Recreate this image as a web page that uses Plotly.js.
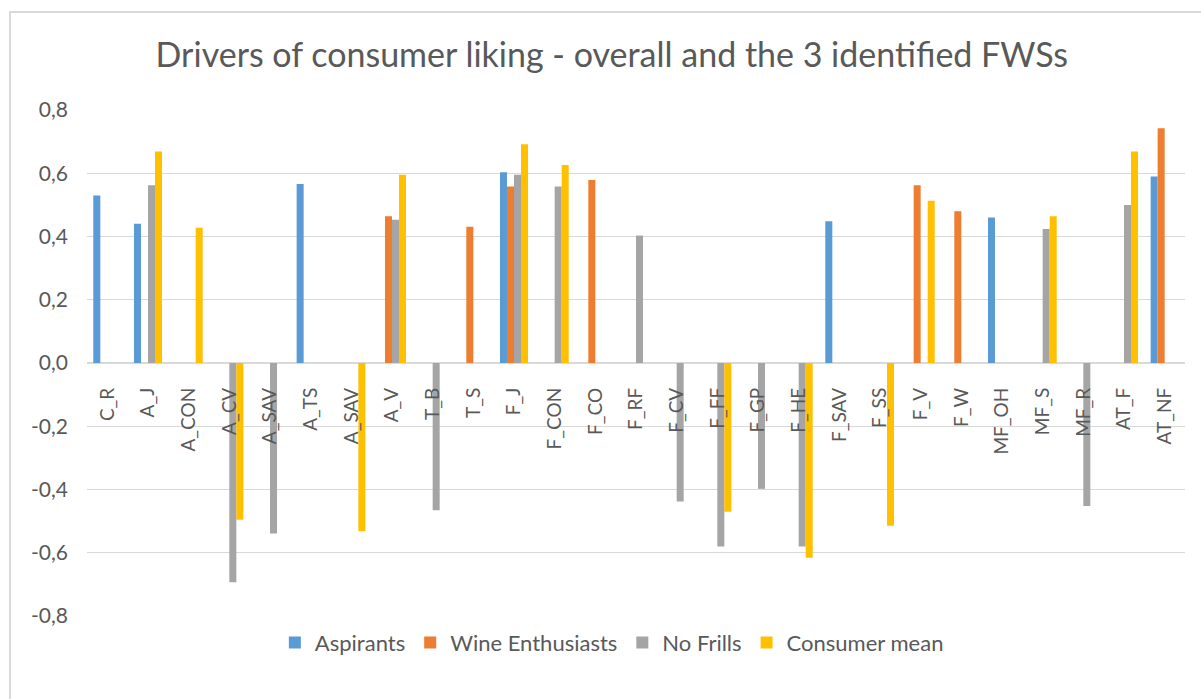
<!DOCTYPE html>
<html>
<head>
<meta charset="utf-8">
<script src="https://cdn.plot.ly/plotly-3.0.1.min.js"></script>
<style>
  html, body { margin: 0; padding: 0; background: #ffffff; }
  #chart { position: absolute; left: 0; top: 0; width: 1201px; height: 699px; }
  #frame { position: absolute; left: 9px; top: 11px; width: 1300px; height: 800px;
           border-left: 2px solid #d9d9d9; border-top: 2px solid #d9d9d9; pointer-events: none; }
</style>
</head>
<body>
<div id="chart"></div>
<div id="frame"></div>
<script>
// Attribute labels (A_SAV occurs twice, so bars are placed by position index)
const labels = ["C_R", "A_J", "A_CON", "A_CV", "A_SAV", "A_TS", "A_SAV", "A_V", "T_B", "T_S",
                "F_J", "F_CON", "F_CO", "F_RF", "F_CV", "F_FF", "F_GP", "F_HE", "F_SAV", "F_SS",
                "F_V", "F_W", "MF_OH", "MF_S", "MF_R", "AT_F", "AT_NF"];

// Correlation with liking per segment (null = not a significant driver)
const aspirants = [0.530, 0.440, null, null, null, 0.566, null, null, null, null,
                   0.603, null, null, null, null, null, null, null, 0.448, null,
                   null, null, 0.460, null, null, null, 0.590];
const wineEnthusiasts = [null, null, null, null, null, null, null, 0.464, null, 0.431,
                         0.558, null, 0.579, null, null, null, null, null, null, null,
                         0.562, 0.480, null, null, null, null, 0.742];
const noFrills = [null, 0.562, null, -0.693, -0.539, null, null, 0.453, -0.466, null,
                  0.595, 0.558, null, 0.403, -0.438, -0.580, -0.398, -0.580, null, null,
                  null, null, null, 0.424, -0.452, 0.500, null];
const consumerMean = [null, 0.669, 0.428, -0.496, null, null, -0.532, 0.595, null, null,
                      0.692, 0.626, null, null, null, -0.470, null, -0.616, null, -0.515,
                      0.513, null, null, 0.464, null, 0.669, null];

// Value axis ticks, written with a decimal comma
const yTickValues = [-0.8, -0.6, -0.4, -0.2, 0, 0.2, 0.4, 0.6, 0.8];
const yTickLabels = ["-0,8", "-0,6", "-0,4", "-0,2", "0,0", "0,2", "0,4", "0,6", "0,8"];

const seriesNames = ["Aspirants", "Wine Enthusiasts", "No Frills", "Consumer mean"];
const seriesColors = ["#5b9bd5", "#ed7d31", "#a5a5a5", "#ffc000"];
const seriesValues = [aspirants, wineEnthusiasts, noFrills, consumerMean];

const positions = labels.map((_, i) => i);
const FONT = "Lato, 'Open Sans', sans-serif";
const TEXT = "#595959";

const traces = seriesValues.map((vals, k) => ({
  type: "bar",
  name: seriesNames[k],
  x: positions,
  y: vals,
  marker: { color: seriesColors[k], line: { width: 0 } },
  hoverinfo: "x+y"
}));

const layout = {
  width: 1201,
  height: 699,
  margin: { l: 87, r: 16, t: 110, b: 83 },
  paper_bgcolor: "rgba(0,0,0,0)",
  plot_bgcolor: "rgba(0,0,0,0)",
  barmode: "group",
  bargap: 0.31,
  bargroupgap: 0,
  font: { family: FONT, color: TEXT, size: 18 },
  title: {
    text: "Drivers of consumer liking - overall and the 3 identified FWSs",
    font: { family: FONT, size: 34, color: TEXT },
    x: 0.478, xref: "paper", xanchor: "center",
    y: 1 - 55 / 699, yref: "container", yanchor: "middle"
  },
  xaxis: {
    anchor: "free",
    position: 0.5,
    range: [-0.5, labels.length - 0.5],
    tickmode: "array",
    tickvals: positions,
    ticktext: labels,
    tickangle: -90,
    ticks: "",
    ticklabelstandoff: 20,
    showgrid: false,
    showline: false,
    zeroline: false,
    tickfont: { family: FONT, size: 19, color: TEXT }
  },
  yaxis: {
    range: [-0.8, 0.8],
    tickmode: "array",
    tickvals: yTickValues,
    ticktext: yTickLabels,
    ticks: "",
    ticklabelstandoff: 18,
    showgrid: true,
    gridcolor: "#d9d9d9",
    gridwidth: 1.3,
    zeroline: true,
    zerolinecolor: "#d9d9d9",
    zerolinewidth: 1.3,
    showline: false,
    tickfont: { family: FONT, size: 21, color: TEXT }
  },
  showlegend: true,
  legend: {
    orientation: "h",
    x: 0.478, xanchor: "center",
    y: -0.053, yanchor: "middle",
    font: { family: FONT, size: 22, color: TEXT },
    itemwidth: 30,
    traceorder: "normal"
  }
};

Plotly.newPlot("chart", traces, layout, { displayModeBar: false, staticPlot: true });
</script>
</body>
</html>
